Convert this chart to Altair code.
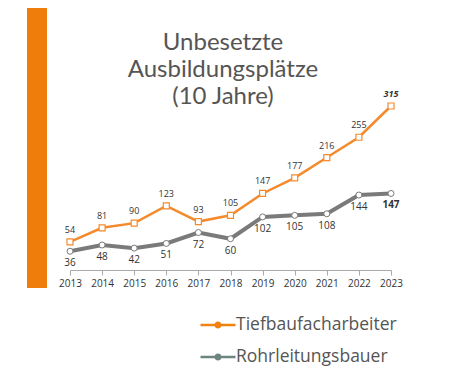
import altair as alt
import pandas as pd

years = ["2013", "2014", "2015", "2016", "2017", "2018", "2019", "2020", "2021", "2022", "2023"]
tiefbau = [54, 81, 90, 123, 93, 105, 147, 177, 216, 255, 315]
rohr = [36, 48, 42, 51, 72, 60, 102, 105, 108, 144, 147]
series = ["Tiefbaufacharbeiter", "Rohrleitungsbauer"]
line_colors = ["#f58a2c", "#7a7a7a"]
legend_colors = ["#f0820f", "#6d8580"]
title_lines = ["Unbesetzte", "Ausbildungsplätze", "(10 Jahre)"]

rows = []
for i, y in enumerate(years):
    rows.append({"Jahr": y, "Wert": tiefbau[i], "Serie": series[0], "last": i == len(years) - 1})
    rows.append({"Jahr": y, "Wert": rohr[i], "Serie": series[1], "last": i == len(years) - 1})
df = pd.DataFrame(rows)
df_t = df[df["Serie"] == series[0]]
df_r = df[df["Serie"] == series[1]]

x_enc = alt.X("Jahr:O", scale=alt.Scale(type="point", padding=0),
              axis=alt.Axis(title=None, labelAngle=0, labelFontSize=10, labelColor="#333",
                            labelFont="Open Sans", domainColor="#aaaaaa", tickColor="#aaaaaa",
                            tickSize=5, labelPadding=3))
y_enc = alt.Y("Wert:Q", scale=alt.Scale(domain=[0, 315], nice=False, zero=True), axis=None)

line_t = alt.Chart(df_t).mark_line(strokeWidth=2.5, color=line_colors[0]).encode(x=x_enc, y=y_enc)
pts_t = alt.Chart(df_t).mark_point(shape="square", filled=True, fill="white", stroke=line_colors[0],
                                   strokeWidth=1.2, size=36, opacity=1).encode(x=x_enc, y=y_enc)
lab_t = alt.Chart(df_t[~df_t["last"]]).mark_text(dy=-12, fontSize=9, font="Open Sans", color="#333").encode(
    x=x_enc, y=y_enc, text="Wert:Q")
lab_t_last = alt.Chart(df_t[df_t["last"]]).mark_text(dy=-12, fontSize=9, font="Open Sans", color="#333",
                                                     fontWeight="bold", fontStyle="italic").encode(
    x=x_enc, y=y_enc, text="Wert:Q")

line_r = alt.Chart(df_r).mark_line(strokeWidth=4, color=line_colors[1]).encode(x=x_enc, y=y_enc)
pts_r = alt.Chart(df_r).mark_point(shape="circle", filled=True, fill="white", stroke=line_colors[1],
                                   strokeWidth=1, size=36, opacity=1).encode(x=x_enc, y=y_enc)
lab_r = alt.Chart(df_r[~df_r["last"]]).mark_text(dy=12, fontSize=10, font="Open Sans", color="#333").encode(
    x=x_enc, y=y_enc, text="Wert:Q")
lab_r_last = alt.Chart(df_r[df_r["last"]]).mark_text(dy=12, fontSize=10, font="Open Sans", color="#333",
                                                     fontWeight="bold").encode(
    x=x_enc, y=y_enc, text="Wert:Q")

legend_symbol = ("M-1.75,-0.13 L1.75,-0.13 L1.75,0.13 L-1.75,0.13 Z "
                 "M0.36,0 A0.36,0.36 0 1,1 -0.36,0 A0.36,0.36 0 1,1 0.36,0 Z")
legend_layer = alt.Chart(df).mark_point(opacity=0, filled=True).encode(
    x=x_enc, y=y_enc,
    color=alt.Color("Serie:N", scale=alt.Scale(domain=series, range=legend_colors),
                    legend=alt.Legend(title=None, orient="none", legendX=138, legendY=209,
                                      symbolType=legend_symbol, symbolSize=400, symbolOpacity=1,
                                      symbolStrokeWidth=0, labelFontSize=17.5, labelFont="Open Sans",
                                      labelColor="#555", labelOffset=8, rowPadding=13, padding=0,
                                      labelLimit=300)))

bar = alt.Chart(df).mark_rect(color="#ef7d0b").encode(
    x=alt.value(-43), x2=alt.value(-23), y=alt.value(-98), y2=alt.value(182))

title_df = pd.DataFrame({"t": ["\n".join(title_lines)]})
title = alt.Chart(title_df).mark_text(font="Lato", fontSize=24, color="#555555", lineHeight=27,
                                      lineBreak="\n", align="center", baseline="alphabetic").encode(
    text="t:N", x=alt.value(153), y=alt.value(-56))

chart = alt.layer(bar, title, line_r, line_t, pts_r, pts_t, lab_t, lab_t_last, lab_r, lab_r_last,
                  legend_layer).properties(
    width=321, height=164,
    padding={"left": 62, "top": 98, "right": 53, "bottom": 109},
    autosize=alt.AutoSizeParams(type="none"),
).configure_view(stroke=None)

chart.save("out.html", embed_options={"renderer": "svg", "actions": False})
